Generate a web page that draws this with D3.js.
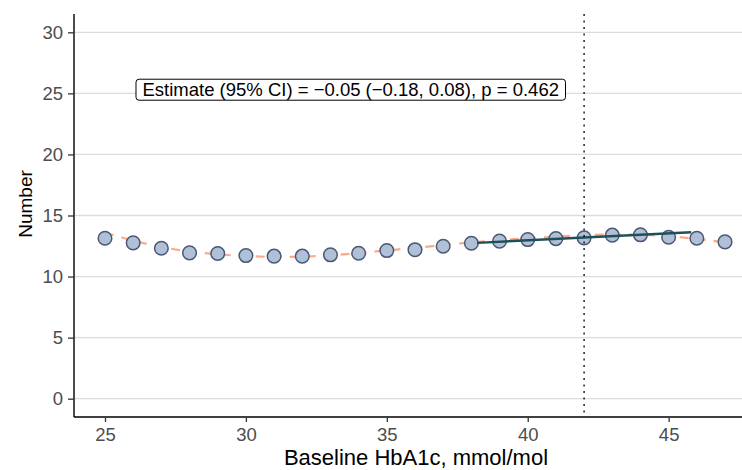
<!DOCTYPE html>
<html>
<head>
<meta charset="utf-8">
<script src="https://cdn.jsdelivr.net/npm/d3@7"></script>
<style>
  html, body { margin: 0; padding: 0; background: #fff; }
  svg { display: block; font-family: "Liberation Sans", Arial, Helvetica, sans-serif; }
</style>
</head>
<body>
<svg id="chart" width="742" height="470"></svg>
<script>
// ---- data ----
const hba1c = [25,26,27,28,29,30,31,32,33,34,35,36,37,38,39,40,41,42,43,44,45,46,47];
const number = [13.14,12.76,12.32,11.94,11.89,11.72,11.67,11.67,11.78,11.91,12.13,12.2,12.48,12.73,12.9,13.03,13.11,13.17,13.39,13.42,13.22,13.14,12.84];
const smoothFit = [13.58,12.95,12.42,12.05,11.82,11.68,11.61,11.63,11.74,11.93,12.14,12.35,12.58,12.8,12.98,13.13,13.27,13.38,13.44,13.43,13.3,13.08,12.8];
const localFitX = [38.2, 45.8];
const localFitY = [12.76, 13.63];
const cutoff = 42;
const xTicks = [25,30,35,40,45];
const yTicks = [0,5,10,15,20,25,30];
const annotation = "Estimate (95% CI) = \u22120.05 (\u22120.18, 0.08), p = 0.462";
const annotationPos = [33.72, 25.3];

// ---- layout ----
const svg = d3.select("#chart");
const pL = 74, pR = 756, pT = 14, pB = 417;
const x = d3.scaleLinear().domain([23.9, 48.1]).range([pL, pR]);
const y = d3.scaleLinear().domain([-1.5, 31.5]).range([pB, pT]);

// gridlines
svg.append("g").selectAll("line").data(yTicks).join("line")
  .attr("x1", pL).attr("x2", pR)
  .attr("y1", d => y(d)).attr("y2", d => y(d))
  .attr("stroke", "#dcdcdc").attr("stroke-width", 1.3);

// axes
const xAxis = svg.append("g").attr("transform", `translate(0,${pB})`)
  .call(d3.axisBottom(x).tickValues(xTicks).tickSize(5).tickPadding(6).tickFormat(d3.format("d")));
const yAxis = svg.append("g").attr("transform", `translate(${pL},0)`)
  .call(d3.axisLeft(y).tickValues(yTicks).tickSize(6).tickPadding(5).tickFormat(d3.format("d")));
[xAxis, yAxis].forEach(a => {
  a.select(".domain").attr("stroke", "#000").attr("stroke-width", 1.4);
  a.selectAll(".tick line").attr("stroke", "#333").attr("stroke-width", 1.3);
  a.selectAll(".tick text").attr("fill", "#4d4d4d").style("font-size", "18.5px")
    .style("font-family", "'Liberation Sans', Arial, sans-serif");
});
xAxis.select(".domain").attr("d", `M${pL},0H${pR}`);
yAxis.select(".domain").attr("d", `M0,${pT}V${pB}`);

// axis titles
svg.append("text").attr("x", 416).attr("y", 465).attr("text-anchor", "middle")
  .style("font-size", "22px").attr("fill", "#000").text("Baseline HbA1c, mmol/mol");
svg.append("text").attr("transform", "translate(32,204) rotate(-90)").attr("text-anchor", "middle")
  .style("font-size", "19px").attr("fill", "#000").text("Number");

// smooth dashed line
const line = d3.line().x(d => x(d[0])).y(d => y(d[1])).curve(d3.curveCatmullRom);
svg.append("path").datum(hba1c.map((v, i) => [v, smoothFit[i]]))
  .attr("d", line).attr("fill", "none")
  .attr("stroke", "#fca88b").attr("stroke-width", 2.2).attr("stroke-dasharray", "9,8");

// points
svg.append("g").selectAll("circle").data(hba1c.map((v, i) => [v, number[i]])).join("circle")
  .attr("cx", d => x(d[0])).attr("cy", d => y(d[1])).attr("r", 6.8)
  .attr("fill", "#b0c0d6").attr("stroke", "#4a5875").attr("stroke-width", 1.5);

// local linear fit
svg.append("path").datum(localFitX.map((v, i) => [v, localFitY[i]]))
  .attr("d", d3.line().x(d => x(d[0])).y(d => y(d[1])))
  .attr("fill", "none").attr("stroke", "#1f5058").attr("stroke-width", 2.4);

// cutoff dotted line
svg.append("line").attr("x1", x(cutoff)).attr("x2", x(cutoff))
  .attr("y1", pT).attr("y2", pB)
  .attr("stroke", "#000").attr("stroke-width", 1.3).attr("stroke-dasharray", "2,4.5");

// annotation
const ag = svg.append("g");
const at = ag.append("text").attr("x", x(annotationPos[0])).attr("y", y(annotationPos[1]))
  .attr("text-anchor", "middle").attr("dominant-baseline", "central")
  .style("font-size", "18.5px").attr("fill", "#000").text(annotation);
const bb = at.node().getBBox();
ag.insert("rect", "text")
  .attr("x", bb.x - 6.5).attr("y", y(annotationPos[1]) - 10.5)
  .attr("width", bb.width + 13).attr("height", 21)
  .attr("rx", 3).attr("fill", "#fff").attr("stroke", "#000").attr("stroke-width", 1);
</script>
</body>
</html>
